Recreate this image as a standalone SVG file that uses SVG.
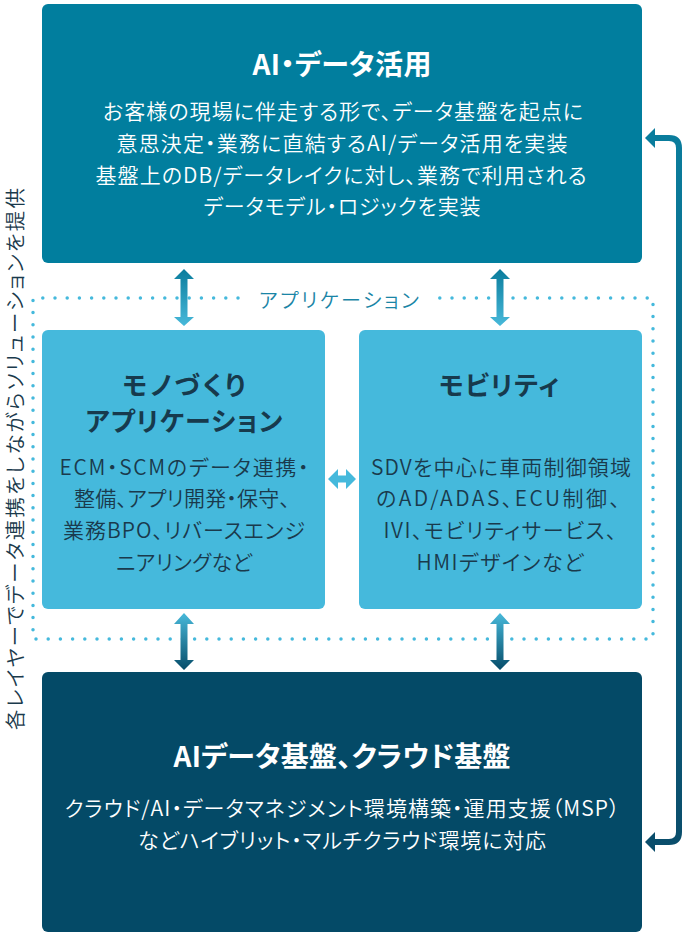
<svg xmlns="http://www.w3.org/2000/svg" width="684" height="932" viewBox="0 0 684 932">
<defs>
<style>
.t{font-family:"Noto Sans CJK JP","Noto Sans",sans-serif;font-feature-settings:"palt";text-anchor:middle}
.h{font-size:28px;font-weight:700}
.h2{font-size:26px;font-weight:700;fill:#173a4d}
.b{font-size:21px;font-weight:350}
.w{fill:#ffffff}
.d{fill:#1a3a4c}
.dots{fill:none;stroke:#45b9dc;stroke-width:3.5;stroke-linecap:round;stroke-dasharray:0 12.2}
</style>
<linearGradient id="gUp" x1="0" y1="0" x2="0" y2="1">
<stop offset="0" stop-color="#0a7c9c"/><stop offset="1" stop-color="#48b9da"/>
</linearGradient>
<linearGradient id="gDown" x1="0" y1="0" x2="0" y2="1">
<stop offset="0" stop-color="#48b9da"/><stop offset="1" stop-color="#064c69"/>
</linearGradient>
<linearGradient id="gSide" gradientUnits="userSpaceOnUse" x1="0" y1="128" x2="0" y2="852">
<stop offset="0" stop-color="#0a7d9d"/><stop offset="1" stop-color="#0a4d6b"/>
</linearGradient>
</defs>

<text class="t d" font-size="20.5" font-weight="350" transform="translate(22.5,459) rotate(-90)" textLength="542">各レイヤーでデータ連携をしながらソリューションを提供</text>

<g id="frame-app">
<path class="dots" d="M238,298 H33 V639 H653 V298 H439"/>
<text class="t" x="339" y="308" font-size="20" font-weight="350" fill="#1a85a6" textLength="160">アプリケーション</text>
</g>

<g id="node-ai">
<rect x="42" y="4" width="600" height="259" rx="6" fill="#017e9e"/>
<text class="t h w" x="342" y="75" textLength="179">AI・データ活用</text>
<text class="t b w" x="343" y="119" textLength="480">お客様の現場に伴走する形で、データ基盤を起点に</text>
<text class="t b w" x="342" y="151" textLength="451">意思決定・業務に直結するAI/データ活用を実装</text>
<text class="t b w" x="341" y="183" textLength="491">基盤上のDB/データレイクに対し、業務で利用される</text>
<text class="t b w" x="342" y="214" textLength="277">データモデル・ロジックを実装</text>
</g>

<g id="node-mono">
<rect x="42" y="330" width="283" height="279" rx="6" fill="#45b9dc"/>
<text class="t h2" x="184" y="395" textLength="123">モノづくり</text>
<text class="t h2" x="184" y="431" textLength="197">アプリケーション</text>
<text class="t b d" x="184" y="475" textLength="249">ECM・SCMのデータ連携・</text>
<text class="t b d" x="182" y="506" textLength="216">整備、アプリ開発・保守、</text>
<text class="t b d" x="184" y="538" textLength="242">業務BPO、リバースエンジ</text>
<text class="t b d" x="184" y="570" textLength="136">ニアリングなど</text>
</g>

<g id="node-mobility">
<rect x="359" y="330" width="283" height="279" rx="6" fill="#45b9dc"/>
<text class="t h2" x="499" y="395" textLength="120">モビリティ</text>
<text class="t b d" x="501" y="475" textLength="260">SDVを中心に車両制御領域</text>
<text class="t b d" x="498" y="506" textLength="244">のAD/ADAS、ECU制御、</text>
<text class="t b d" x="500" y="538" textLength="233">IVI、モビリティサービス、</text>
<text class="t b d" x="500" y="570" textLength="167">HMIデザインなど</text>
</g>

<g id="node-infra">
<rect x="42" y="672" width="600" height="260" rx="6" fill="#044a67"/>
<text class="t h w" x="342" y="767" textLength="337">AIデータ基盤、クラウド基盤</text>
<text class="t b w" x="342" y="816" textLength="555">クラウド/AI・データマネジメント環境構築・運用支援（MSP）</text>
<text class="t b w" x="342" y="848" textLength="408">などハイブリット・マルチクラウド環境に対応</text>
</g>

<g id="connectors">
<path fill="url(#gUp)" d="M184,269 L194,279 L187.5,279 L187.5,317 L194,317 L184,326 L174,317 L180.5,317 L180.5,279 L174,279 Z"/>
<path fill="url(#gUp)" d="M500,269 L510,279 L503.5,279 L503.5,317 L510,317 L500,326 L490,317 L496.5,317 L496.5,279 L490,279 Z"/>
<path fill="url(#gDown)" d="M184,613 L194,624 L187.5,624 L187.5,660 L194,660 L184,670 L174,660 L180.5,660 L180.5,624 L174,624 Z"/>
<path fill="url(#gDown)" d="M500,613 L510,624 L503.5,624 L503.5,660 L510,660 L500,670 L490,660 L496.5,660 L496.5,624 L490,624 Z"/>
<path fill="#45b9dc" d="M328,479 L338,469 L338,475.5 L346,475.5 L346,469 L356,479 L346,489 L346,482.5 L338,482.5 L338,489 Z"/>
<path fill="none" stroke="url(#gSide)" stroke-width="6" d="M652,138 H669 Q679,138 679,148 V832 Q679,842 669,842 H652"/>
<path fill="#0a7d9d" d="M645,138 L655,128 L655,148 Z"/>
<path fill="#0a4d6b" d="M645,842 L655,832 L655,852 Z"/>
</g>
</svg>
